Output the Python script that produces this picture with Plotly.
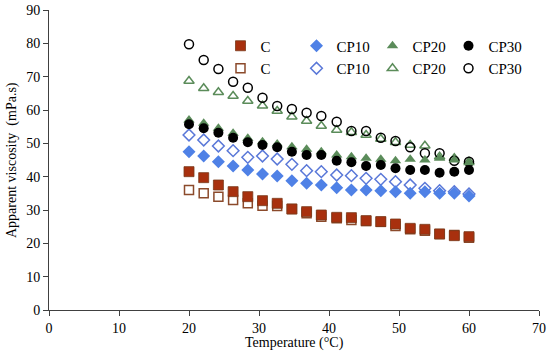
import plotly.graph_objects as go

temperature = [20.0, 22.1, 24.2, 26.3, 28.4, 30.5, 32.6, 34.7, 36.8, 38.9,
               41.1, 43.2, 45.3, 47.4, 49.5, 51.6, 53.7, 55.8, 57.9, 60.0]

c_filled = [41.5, 39.7, 37.5, 35.5, 34.0, 32.8, 32.0, 30.3, 29.5, 28.5,
            27.8, 27.7, 26.8, 26.5, 25.8, 24.5, 24.2, 22.8, 22.3, 22.0]
c_open = [36.0, 35.0, 34.0, 33.0, 32.0, 31.3, 31.2, 30.3, 29.0, 28.0,
          27.5, 27.0, 26.7, 26.5, 25.2, 24.2, 23.8, 22.8, 22.5, 21.7]
cp10_filled = [47.5, 46.2, 44.5, 43.2, 42.0, 40.8, 40.2, 38.8, 38.0, 37.5,
               36.7, 36.0, 36.0, 35.8, 35.5, 35.0, 35.5, 35.0, 35.0, 34.2]
cp10_open = [52.5, 51.0, 49.2, 47.8, 45.8, 46.2, 45.3, 43.7, 41.8, 41.5,
             40.5, 40.3, 39.5, 39.2, 38.5, 37.5, 36.5, 35.8, 35.5, 34.8]
cp20_filled = [57.0, 56.0, 54.5, 53.0, 51.5, 50.5, 49.8, 49.0, 48.2, 47.5,
               46.5, 46.0, 45.5, 45.2, 44.8, 45.2, 45.0, 45.5, 45.0, 44.2]
cp20_open = [68.7, 66.5, 65.3, 64.2, 62.7, 61.3, 59.7, 58.0, 56.7, 55.2,
             54.0, 53.3, 52.5, 51.3, 50.3, 49.5, 49.3, 46.0, 45.5, 44.5]
cp30_filled = [55.7, 54.5, 53.2, 51.7, 50.3, 49.5, 48.8, 47.5, 46.5, 46.5,
               44.8, 44.3, 43.2, 43.5, 42.5, 42.0, 42.0, 41.2, 41.5, 42.0]
cp30_open = [79.7, 75.0, 72.3, 68.5, 66.7, 63.7, 61.2, 60.3, 59.2, 58.2,
             56.5, 53.7, 53.7, 51.7, 50.7, 48.8, 47.0, 47.0, 44.8, 44.5]

names = ["C", "CP10", "CP20", "CP30"]
colors = ["#a8300e", "#4f81e6", "#5b8c5a", "#000000"]
open_colors = ["#8b4a2b", "#5a78d8", "#5b8c5a", "#000000"]
symbols = ["square", "diamond", "triangle-up", "circle"]
sizes = [10, 10, 10, 10]

filled_series = [c_filled, cp10_filled, cp20_filled, cp30_filled]
open_series = [c_open, cp10_open, cp20_open, cp30_open]

x_title = "Temperature (°C)"
y_title = "Apparent viscosity  (mPa.s)"

fig = go.Figure()

for i in range(4):
    fig.add_trace(go.Scatter(
        x=temperature, y=open_series[i], mode="markers", name=names[i],
        legend="legend2",
        marker=dict(symbol=symbols[i] + "-open", size=sizes[i] - 1,
                    color=open_colors[i], line=dict(width=1.5, color=open_colors[i])),
    ))

for i in range(4):
    fig.add_trace(go.Scatter(
        x=temperature, y=filled_series[i], mode="markers", name=names[i],
        legend="legend",
        marker=dict(symbol=symbols[i], size=sizes[i], color=colors[i],
                    line=dict(width=0.8 if i == 0 else 0,
                              color="#7a3a1a" if i == 0 else colors[i])),
    ))

font_family = "Liberation Serif, Times New Roman, serif"

legend_common = dict(
    orientation="h", xanchor="left", yanchor="middle",
    font=dict(family=font_family, size=15, color="#000000"),
    bgcolor="rgba(0,0,0,0)", entrywidth=31, entrywidthmode="pixels",
    itemwidth=30, tracegroupgap=0,
)

fig.update_layout(
    width=550, height=360,
    margin=dict(l=49, r=11, t=10, b=50, autoexpand=False),
    paper_bgcolor="white", plot_bgcolor="white",
    font=dict(family=font_family, size=14, color="#000000"),
    showlegend=True,
    legend=dict(x=0.350, y=0.88, **legend_common),
    legend2=dict(x=0.350, y=0.805, **legend_common),
    xaxis=dict(
        range=[0, 70], dtick=10, tick0=0, showgrid=False, zeroline=False,
        showline=True, linecolor="#404040", linewidth=1, automargin=False,
        ticks="outside", ticklen=5, tickcolor="#404040",
        tickfont=dict(family=font_family, size=14),
    ),
    yaxis=dict(
        range=[0, 90], dtick=10, tick0=0, showgrid=False, zeroline=False,
        showline=True, linecolor="#404040", linewidth=1, automargin=False,
        ticks="outside", ticklen=5, tickcolor="#404040",
        tickfont=dict(family=font_family, size=14),
    ),
    annotations=[
        dict(text=x_title, xref="paper", yref="paper", x=0.5, y=0,
             xanchor="center", yanchor="middle", yshift=-33, showarrow=False,
             font=dict(family=font_family, size=14, color="#000000")),
        dict(text=y_title, xref="paper", yref="paper", x=0, y=0.5,
             xanchor="center", yanchor="middle", xshift=-37, textangle=-90,
             showarrow=False, font=dict(family=font_family, size=14, color="#000000")),
    ],
)

fig.write_html("out.html", config={"displayModeBar": False},
               post_script="document.body.style.margin='0';")
